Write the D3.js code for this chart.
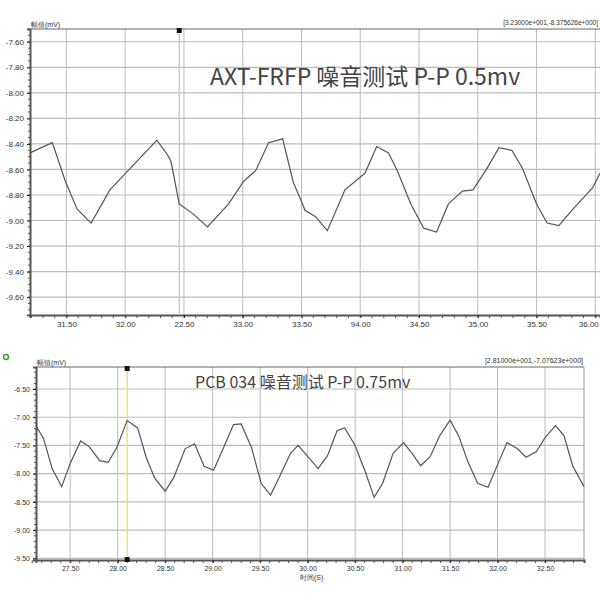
<!DOCTYPE html>
<html><head><meta charset="utf-8">
<script src="https://cdn.jsdelivr.net/npm/d3@7"></script>
<style>body{margin:0;background:#fff}text{font-family:"Liberation Sans",Arial,sans-serif}</style>
</head><body><svg id="c" width="600" height="600"></svg>
<script>
// Top panel (AXT-FRFP)
const topTime = [31.19,31.38,31.49,31.59,31.71,31.87,32.27,32.37,32.39,32.46,32.58,32.70,32.88,33.01,33.11,33.22,33.34,33.43,33.49,33.53,33.62,33.72,33.87,34.04,34.14,34.24,34.32,34.43,34.54,34.65,34.75,34.87,34.96,35.08,35.18,35.29,35.38,35.50,35.59,35.69,35.81,35.98,36.04];
const topValue = [-8.47,-8.39,-8.69,-8.91,-9.02,-8.76,-8.37,-8.50,-8.54,-8.87,-8.95,-9.05,-8.87,-8.69,-8.61,-8.39,-8.36,-8.70,-8.83,-8.92,-8.97,-9.08,-8.76,-8.63,-8.42,-8.47,-8.62,-8.87,-9.06,-9.09,-8.87,-8.77,-8.76,-8.59,-8.43,-8.45,-8.59,-8.87,-9.02,-9.04,-8.91,-8.74,-8.63];
const topXTicks = [31.5,32.0,32.5,33.0,33.5,34.0,34.5,35.0,35.5,36.0];
const topXLabels = ["31.50","32.00","22.50","33.00","33.50","94.00","34.50","35.00","35.50","36.00"];
const topYTicks = [-7.6,-7.8,-8.0,-8.2,-8.4,-8.6,-8.8,-9.0,-9.2,-9.4,-9.6];
const topYLabels = ["-7.60","-7.80","-8.00","-8.20","-8.40","-8.60","-8.80","-9.00","-9.20","-9.40","-9.60"];
const topTitle = "AXT-FRFP  噪音测试 P-P 0.5mv";
const topCoord = "[3.23000e+001,-8.375626e+000]";
const topCursor = 32.46;
// Bottom panel (PCB 034)
const botTime = [27.14,27.22,27.31,27.41,27.50,27.61,27.70,27.81,27.90,27.99,28.10,28.21,28.30,28.39,28.50,28.59,28.71,28.81,28.91,29.01,29.11,29.22,29.30,29.41,29.51,29.61,29.70,29.82,29.90,30.01,30.11,30.21,30.31,30.39,30.50,30.61,30.70,30.79,30.90,31.01,31.10,31.19,31.29,31.39,31.50,31.59,31.69,31.79,31.90,32.01,32.10,32.21,32.30,32.41,32.50,32.61,32.70,32.79,32.91];
const botValue = [-7.15,-7.38,-7.91,-8.23,-7.82,-7.42,-7.52,-7.77,-7.80,-7.54,-7.06,-7.19,-7.71,-8.08,-8.31,-8.07,-7.56,-7.47,-7.87,-7.94,-7.56,-7.13,-7.12,-7.54,-8.17,-8.38,-8.07,-7.64,-7.50,-7.71,-7.91,-7.68,-7.24,-7.19,-7.50,-7.98,-8.42,-8.17,-7.64,-7.45,-7.64,-7.86,-7.70,-7.33,-7.05,-7.33,-7.80,-8.17,-8.24,-7.80,-7.45,-7.56,-7.71,-7.61,-7.36,-7.15,-7.33,-7.86,-8.23];
const botXTicks = [27.5,28.0,28.5,29.0,29.5,30.0,30.5,31.0,31.5,32.0,32.5];
const botXLabels = ["27.50","28.00","28.50","29.00","29.50","30.00","30.50","31.00","31.50","32.00","32.50"];
const botYTicks = [-6.5,-7.0,-7.5,-8.0,-8.5,-9.0,-9.5];
const botYLabels = ["-6.50","-7.00","-7.50","-8.00","-8.50","-9.00","-9.50"];
const botTitle = "PCB 034 噪音测试 P-P 0.75mv";
const botCoord = "[2.81000e+001,-7.07623e+000]";
const botCursor = 28.10;

const svg = d3.select("#c");
function panel(o){
  const g = svg.append("g");
  const x = d3.scaleLinear().domain(o.xd).range([o.l,o.r]);
  const y = d3.scaleLinear().domain(o.yd).range([o.b,o.t]);
  g.selectAll(".vg").data(o.xt).join("line").attr("x1",d=>x(d)).attr("x2",d=>x(d)).attr("y1",o.t).attr("y2",o.b).attr("stroke","#bbb").attr("stroke-width",1);
  g.selectAll(".hg").data(o.yt).join("line").attr("x1",o.l).attr("x2",o.r).attr("y1",d=>y(d)).attr("y2",d=>y(d)).attr("stroke","#bbb").attr("stroke-width",1.2);
  g.append("line").attr("x1",o.l).attr("x2",o.r).attr("y1",o.t).attr("y2",o.t).attr("stroke","#666");
  if(o.rightBorder) g.append("line").attr("x1",o.r).attr("x2",o.r).attr("y1",o.t).attr("y2",o.b).attr("stroke","#999");
  const xa = d3.axisBottom(x).tickValues(o.xt).tickFormat((d,i)=>o.xl[i]).tickSize(3);
  const ax = g.append("g").attr("transform",`translate(0,${o.b})`).call(xa);
  ax.select(".domain").attr("stroke","#555").attr("stroke-width",2);
  ax.selectAll("text").attr("font-size",o.fs).attr("fill","#333");
  ax.selectAll("text").filter(function(){return +this.getBoundingClientRect().right>598 || (x(d3.select(this.parentNode).datum())>590);}).attr("text-anchor","end").attr("dx","3");
  const minorX = d3.range(o.xd[0], o.xd[1], 0.1).map(v=>Math.round(v*10)/10);
  ax.selectAll(".mx").data(minorX).join("line").attr("x1",d=>x(d)).attr("x2",d=>x(d)).attr("y1",0).attr("y2",3).attr("stroke","#555");
  const ya = d3.axisLeft(y).tickValues(o.yt).tickFormat((d,i)=>o.yl[i]).tickSize(3);
  const ay = g.append("g").attr("transform",`translate(${o.l},0)`).call(ya);
  ay.select(".domain").attr("stroke","#555").attr("stroke-width",2);
  ay.selectAll("text").attr("font-size",o.fs).attr("fill","#333");
  const minorY = d3.range(Math.ceil(o.yd[0]/o.ym)*o.ym, o.yd[1], o.ym);
  ay.selectAll(".my").data(minorY).join("line").attr("x1",-2).attr("x2",0).attr("y1",d=>y(d)).attr("y2",d=>y(d)).attr("stroke","#555");
  g.append("line").attr("x1",x(o.cur)).attr("x2",x(o.cur)).attr("y1",o.t).attr("y2",o.b).attr("stroke",o.curColor).attr("stroke-width",1.5);
  g.append("rect").attr("x",x(o.cur)-2.5).attr("y",o.t-1).attr("width",5).attr("height",5).attr("fill","#111");
  if(o.curBottom) g.append("rect").attr("x",x(o.cur)-2.5).attr("y",o.b-3).attr("width",5).attr("height",5).attr("fill","#111");
  const line = d3.line().x((d,i)=>x(o.tm[i])).y(d=>y(d));
  g.append("path").datum(o.v).attr("d",line).attr("fill","none").attr("stroke","#555").attr("stroke-width",1.2);
  g.append("text").attr("x",o.l+1).attr("y",o.t-2).attr("font-size",7).attr("fill","#333").text("幅值(mV)");
  g.append("text").attr("x",o.coordX).attr("y",o.t-4).attr("font-size",o.coordFs).attr("fill","#333").attr("text-anchor","end").text(o.coord);
  g.append("text").attr("x",o.titleX).attr("y",o.titleY).attr("font-size",o.titleFs).attr("fill","#444").style("font-family","'Noto Sans CJK SC','Noto Sans',sans-serif").text(o.title);
  return {x,y};
}
panel({xd:[31.19,36.04],yd:[-9.74,-7.50],l:30,r:600,t:29,b:315,xt:topXTicks,xl:topXLabels,yt:topYTicks,yl:topYLabels,ym:0.05,fs:8,
  tm:topTime,v:topValue,cur:topCursor,curColor:"#ccc",curBottom:false,rightBorder:false,
  coord:topCoord,coordX:598,coordFs:6.5,title:topTitle,titleX:210,titleY:85,titleFs:23});
panel({xd:[27.14,32.91],yd:[-9.53,-6.11],l:36,r:584,t:367,b:560,xt:botXTicks,xl:botXLabels,yt:botYTicks,yl:botYLabels,ym:0.1,fs:7,
  tm:botTime,v:botValue,cur:botCursor,curColor:"#e8e27a",curBottom:true,rightBorder:true,
  coord:botCoord,coordX:583,coordFs:7,title:botTitle,titleX:195,titleY:388,titleFs:16});
svg.append("text").attr("x",300).attr("y",580).attr("font-size",7).attr("fill","#333").text("时间(S)");
svg.append("circle").attr("cx",6).attr("cy",357).attr("r",2.5).attr("fill","none").attr("stroke","#3a3").attr("stroke-width",1.5);
</script></body></html>
